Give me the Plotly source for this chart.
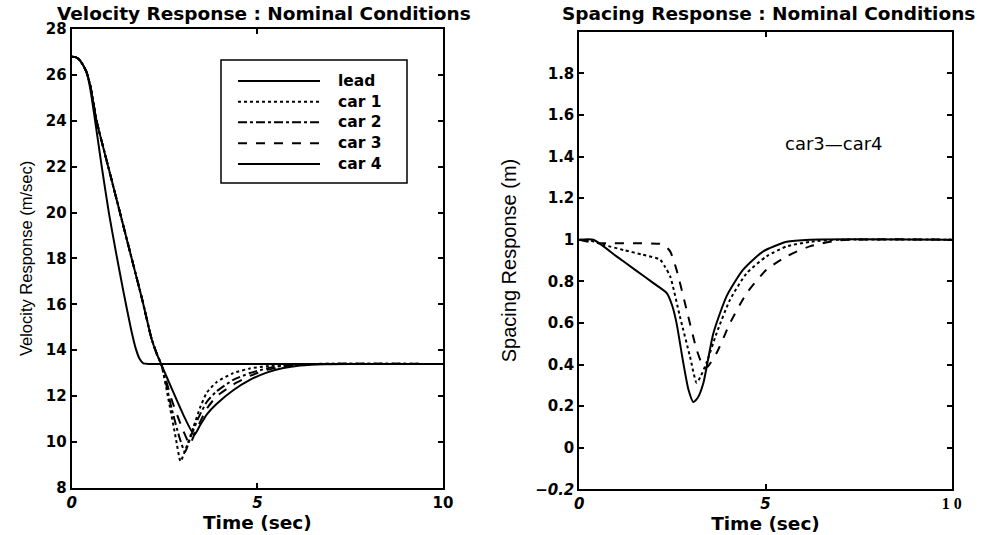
import plotly.graph_objects as go

# ---------------- data ----------------
# Velocity response (m/sec) vs time (sec)
lead_t = [0, 0.1, 0.2, 0.3, 0.4, 0.5, 0.6, 0.8, 1.0, 1.2, 1.4, 1.6, 1.72, 1.82, 1.93, 2.05, 10]
lead_v = [26.8, 26.78, 26.68, 26.45, 26.15, 25.4, 24.35, 22.1, 20.0, 18.2, 16.5, 14.9, 14.1, 13.65, 13.42, 13.4, 13.4]

car1_t = [0, 0.1, 0.2, 0.3, 0.4, 0.5, 0.67, 1.0, 1.3, 1.6, 1.9, 2.15, 2.3, 2.42, 2.6, 2.8, 2.93, 3.05, 3.28, 3.46, 3.64, 3.9, 4.35, 4.8, 5.25, 5.8, 6.5, 10]
car1_v = [26.8, 26.78, 26.68, 26.45, 26.12, 25.55, 24.0, 21.9, 20.0, 18.1, 16.2, 14.5, 13.8, 13.35, 11.9, 10.2, 9.15, 9.6, 10.65, 11.5, 12.15, 12.6, 13.0, 13.2, 13.3, 13.37, 13.4, 13.4]

car2_t = [0, 0.1, 0.2, 0.3, 0.4, 0.5, 0.67, 1.0, 1.3, 1.6, 1.9, 2.15, 2.3, 2.42, 2.7, 2.9, 3.05, 3.2, 3.4, 3.64, 3.9, 4.35, 4.8, 5.25, 5.7, 6.2, 6.8, 10]
car2_v = [26.8, 26.78, 26.68, 26.45, 26.12, 25.55, 24.0, 21.9, 20.0, 18.1, 16.2, 14.5, 13.8, 13.35, 11.4, 10.2, 9.55, 10.2, 11.0, 11.75, 12.2, 12.7, 13.0, 13.2, 13.32, 13.38, 13.4, 13.4]

car3_t = [0, 0.1, 0.2, 0.3, 0.4, 0.5, 0.67, 1.0, 1.3, 1.6, 1.9, 2.15, 2.3, 2.42, 2.7, 3.0, 3.18, 3.35, 3.64, 3.9, 4.35, 4.8, 5.25, 5.7, 6.2, 6.8, 10]
car3_v = [26.8, 26.78, 26.68, 26.45, 26.12, 25.55, 24.0, 21.9, 20.0, 18.1, 16.2, 14.5, 13.8, 13.35, 11.8, 10.5, 9.9, 10.5, 11.45, 11.98, 12.5, 12.88, 13.13, 13.28, 13.36, 13.4, 13.4]

car4_t = [0, 0.1, 0.2, 0.3, 0.4, 0.5, 0.67, 1.0, 1.3, 1.6, 1.9, 2.15, 2.3, 2.42, 2.7, 3.0, 3.3, 3.45, 3.64, 3.9, 4.35, 4.8, 5.25, 5.7, 6.15, 6.8, 7.5, 10]
car4_v = [26.8, 26.78, 26.68, 26.45, 26.12, 25.55, 24.0, 21.9, 20.0, 18.1, 16.2, 14.5, 13.8, 13.35, 12.3, 11.2, 10.3, 10.7, 11.2, 11.65, 12.25, 12.7, 13.02, 13.22, 13.33, 13.39, 13.4, 13.4]

# Spacing response (m) vs time (sec)
sp_solid_t = [0, 0.38, 1.0, 1.5, 2.0, 2.35, 2.5, 2.61, 2.79, 2.93, 3.06, 3.18, 3.33, 3.6, 3.96, 4.4, 4.94, 5.57, 6.2, 10]
sp_solid_v = [1.0, 1.0, 0.92, 0.855, 0.79, 0.743, 0.68, 0.6, 0.41, 0.28, 0.22, 0.24, 0.31, 0.55, 0.73, 0.856, 0.944, 0.99, 1.0, 1.0]

sp_dot_t = [0, 0.3, 0.64, 1.2, 1.7, 2.17, 2.3, 2.44, 2.7, 2.97, 3.15, 3.25, 3.42, 3.69, 4.05, 4.5, 5.03, 5.57, 6.2, 7.0, 10]
sp_dot_v = [1.0, 0.995, 0.976, 0.95, 0.928, 0.904, 0.87, 0.824, 0.632, 0.44, 0.312, 0.34, 0.41, 0.552, 0.712, 0.84, 0.92, 0.968, 0.99, 1.0, 1.0]

sp_dash_t = [0, 0.3, 0.6, 2.17, 2.3, 2.44, 2.61, 2.88, 3.15, 3.3, 3.37, 3.45, 3.69, 4.05, 4.5, 5.03, 5.57, 6.19, 7.0, 10]
sp_dash_v = [1.0, 0.988, 0.983, 0.98, 0.97, 0.944, 0.856, 0.664, 0.472, 0.4, 0.384, 0.39, 0.456, 0.6, 0.744, 0.856, 0.92, 0.968, 0.997, 1.0]

vel_ticks = [8, 10, 12, 14, 16, 18, 20, 22, 24, 26, 28]
sp_ticks = [-0.2, 0, 0.2, 0.4, 0.6, 0.8, 1.0, 1.2, 1.4, 1.6, 1.8]
sp_ticktext = ["<i>\u22120.2</i>", "0", "0.2", "0.4", "0.6", "0.8", "1", "1.2", "1.4", "1.6", "1.8"]
time_ticks = [0, 5, 10]
time_text_left = ["<i>0</i>", "<i>5</i>", "10"]
time_text_right = ["<i>0</i>", "<i>5</i>", "<span style='font-family:Liberation Serif;font-size:16px'>1 0</span>"]

legend_names = ["lead", "car 1", "car 2", "car 3", "car 4"]
legend_dashes = ["solid", "dot", "dashdot", "dash", "solid"]

# ---------------- figure ----------------
BOLD = "DejaVu Sans"
W, H = 991, 535
fig = go.Figure()

vel_series = [
    (legend_names[0], lead_t, lead_v, legend_dashes[0]),
    (legend_names[1], car1_t, car1_v, legend_dashes[1]),
    (legend_names[2], car2_t, car2_v, legend_dashes[2]),
    (legend_names[3], car3_t, car3_v, legend_dashes[3]),
    (legend_names[4], car4_t, car4_v, legend_dashes[4]),
]
for name, t, v, dash in vel_series:
    fig.add_trace(go.Scatter(x=t, y=v, mode="lines", name=name, showlegend=False,
                             line=dict(color="black", width=2, dash=dash, shape="spline", smoothing=0.5),
                             xaxis="x", yaxis="y"))

sp_series = [
    ("car3-car4 (a)", sp_solid_t, sp_solid_v, "solid"),
    ("car3-car4 (b)", sp_dot_t, sp_dot_v, "dot"),
    ("car3-car4 (c)", sp_dash_t, sp_dash_v, "dash"),
]
for name, t, v, dash in sp_series:
    fig.add_trace(go.Scatter(x=t, y=v, mode="lines", name=name, showlegend=False,
                             line=dict(color="black", width=2, dash=dash, shape="spline", smoothing=0.6),
                             xaxis="x2", yaxis="y2"))

axis_common = dict(showline=True, linecolor="black", linewidth=2, mirror="allticks",
                   ticks="inside", ticklen=5, tickwidth=1.5, tickcolor="black",
                   showgrid=False, zeroline=False, automargin=False,
                   tickfont=dict(family=BOLD, size=15, color="black", weight="bold"))

title_font = dict(family=BOLD, size=18.5, color="black", weight="bold")
ylab_font = dict(family="Liberation Sans", color="black")

# legend drawn as a boxed key (line samples + labels) in paper space
shapes = [dict(type="rect", xref="paper", yref="paper",
               x0=221 / W, x1=407 / W, y0=1 - 183 / H, y1=1 - 60 / H,
               line=dict(color="black", width=1.5), fillcolor="white", layer="above")]
annotations = []
row_y = [81, 101.7, 122.3, 143.3, 164]
for name, dash, ry in zip(legend_names, legend_dashes, row_y):
    shapes.append(dict(type="line", xref="paper", yref="paper",
                       x0=238 / W, x1=320 / W, y0=1 - ry / H, y1=1 - ry / H,
                       line=dict(color="black", width=2, dash=dash), layer="above"))
    annotations.append(dict(text=name, xref="paper", yref="paper", x=336 / W, y=1 - ry / H,
                            xanchor="left", yanchor="middle", showarrow=False,
                            font=dict(family=BOLD, size=15.5, color="black", weight="bold")))

annotations += [
    dict(text="<b>Velocity Response : Nominal Conditions</b>", xref="paper", yref="paper",
         x=264 / W, y=1 - 14 / H, xanchor="center", yanchor="middle", showarrow=False,
         font=dict(family=BOLD, size=18.5, color="black")),
    dict(text="<b>Spacing Response : Nominal Conditions</b>", xref="paper", yref="paper",
         x=768 / W, y=1 - 14 / H, xanchor="center", yanchor="middle", showarrow=False,
         font=dict(family=BOLD, size=18.5, color="black")),
    dict(text="car3\u2014car4", xref="x2", yref="y2", x=6.85, y=1.464,
         xanchor="center", yanchor="middle", showarrow=False,
         font=dict(family="DejaVu Sans", size=18, color="black")),
]

fig.update_layout(
    width=W, height=H,
    margin=dict(l=0, r=0, t=0, b=0),
    paper_bgcolor="white", plot_bgcolor="white",
    showlegend=False,
    xaxis=dict(domain=[71.7 / W, 443 / W], range=[0, 10], tickvals=time_ticks, ticktext=time_text_left,
               anchor="y", title=dict(text="Time (sec)", font=title_font, standoff=2),
               **axis_common),
    yaxis=dict(domain=[1 - 487.7 / H, 1 - 29.2 / H], range=[8, 28], tickvals=vel_ticks, anchor="x",
               title=dict(text="Velocity Response (m/sec)", font=dict(size=16.5, **ylab_font), standoff=9),
               **axis_common),
    xaxis2=dict(domain=[579.3 / W, 951.7 / W], range=[0, 10], tickvals=time_ticks, ticktext=time_text_right,
                anchor="y2", title=dict(text="Time (sec)", font=title_font, standoff=2),
                **axis_common),
    yaxis2=dict(domain=[1 - 489.3 / H, 1 - 31.7 / H], range=[-0.2, 2.0], tickvals=sp_ticks, ticktext=sp_ticktext,
                anchor="x2",
                title=dict(text="Spacing Response (m)", font=dict(size=20, **ylab_font), standoff=13),
                **axis_common),
    shapes=shapes,
    annotations=annotations,
)

fig.write_html("out.html")
